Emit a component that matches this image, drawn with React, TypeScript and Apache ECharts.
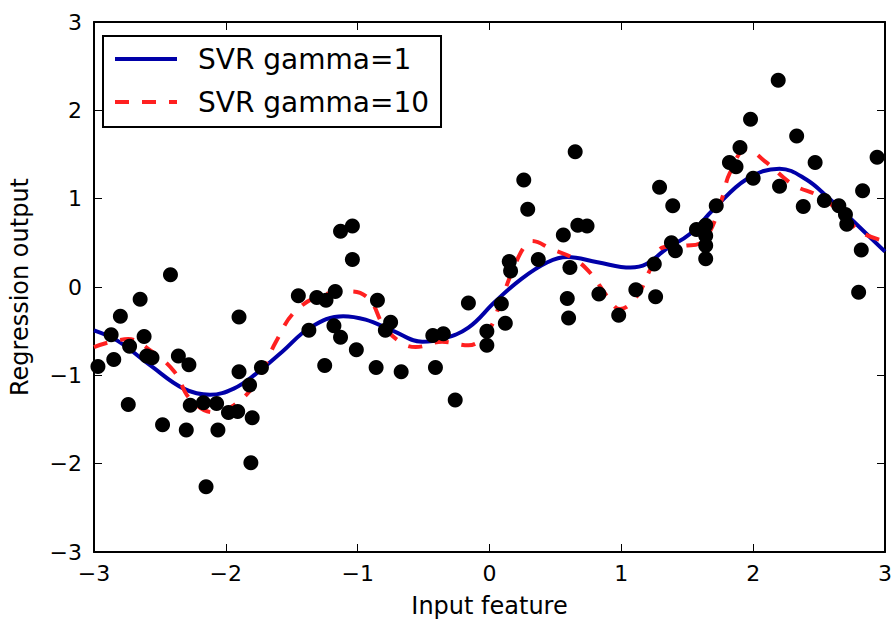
import React, { useEffect, useRef } from "react";
import * as echarts from "echarts";

const pointX = [
  -2.97, -2.87, -2.85, -2.8, -2.74, -2.73, -2.65, -2.62, -2.6, -2.56, -2.48, -2.42, -2.36, -2.28, -2.3, -2.27,
  -2.17, -2.15, -2.07, -2.06, -1.98, -1.91, -1.9, -1.8, -1.81, -1.82, -1.9, -1.73, -1.45, -1.37, -1.31, -1.24,
  -1.17, -1.25, -1.18, -1.13, -1.13, -1.04, -1.04, -1.01, -0.85, -0.86, -0.75, -0.79, -0.67, -0.43, -0.35, -0.41,
  -0.26, -0.16, -0.02, -0.02, 0.09, 0.12, 0.15, 0.16, 0.26, 0.29, 0.37, 0.56, 0.59, 0.6, 0.61, 0.65, 0.67, 0.74,
  0.83, 0.98, 1.11, 1.26, 1.25, 1.29, 1.39, 1.38, 1.41, 1.57, 1.64, 1.64, 1.64, 1.64, 1.72, 1.82, 1.87, 1.9, 1.98,
  2.0, 2.19, 2.2, 2.33, 2.38, 2.47, 2.54, 2.65, 2.7, 2.71, 2.83, 2.82, 2.8, 2.94,
];
const pointY = [
  -0.9, -0.54, -0.82, -0.33, -1.33, -0.67, -0.14, -0.56, -0.78, -0.8, -1.56, 0.14, -0.78, -0.88, -1.62, -1.34,
  -1.31, -2.26, -1.32, -1.62, -1.42, -1.41, -0.34, -1.48, -1.99, -1.11, -0.96, -0.91, -0.1, -0.49, -0.12, -0.15,
  -0.05, -0.89, -0.44, -0.57, 0.63, 0.69, 0.31, -0.71, -0.15, -0.91, -0.4, -0.49, -0.96, -0.55, -0.53, -0.91,
  -1.28, -0.18, -0.5, -0.66, -0.19, -0.41, 0.29, 0.18, 1.21, 0.88, 0.31, 0.59, -0.13, -0.35, 0.22, 1.53, 0.7, 0.69,
  -0.08, -0.32, -0.03, -0.11, 0.26, 1.13, 0.92, 0.5, 0.41, 0.65, 0.7, 0.58, 0.47, 0.32, 0.92, 1.41, 1.36, 1.58, 1.9,
  1.23, 2.34, 1.14, 1.71, 0.91, 1.41, 0.98, 0.92, 0.82, 0.71, 1.09, 0.42, -0.06, 1.47,
];

const gamma1X = [
  -3, -2.82, -2.57, -2.32, -2.12, -1.94, -1.77, -1.57, -1.36, -1.11, -0.94, -0.74, -0.51, -0.36, -0.16, 0.04,
  0.24, 0.44, 0.59, 0.82, 1.07, 1.19, 1.34, 1.52, 1.7, 1.95, 2.2, 2.4, 2.57, 2.77, 3.0,
];
const gamma1Y = [
  -0.49, -0.61, -0.89, -1.15, -1.22, -1.15, -0.98, -0.73, -0.46, -0.33, -0.37, -0.49, -0.62, -0.59, -0.46, -0.17,
  0.09, 0.28, 0.34, 0.28, 0.22, 0.26, 0.43, 0.6, 0.88, 1.22, 1.34, 1.22, 1.01, 0.73, 0.4,
];

const gamma10X = [
  -3, -2.74, -2.57, -2.39, -2.27, -2.09, -1.94, -1.77, -1.62, -1.47, -1.24, -1.05, -0.91, -0.81, -0.69, -0.56,
  -0.36, -0.16, -0.01, 0.09, 0.19, 0.27, 0.32, 0.47, 0.64, 0.77, 0.89, 0.99, 1.12, 1.22, 1.32, 1.5, 1.59, 1.67,
  1.77, 1.82, 1.95, 2.1, 2.3, 2.5, 2.65, 2.82, 3.0,
];
const gamma10Y = [
  -0.68, -0.59, -0.72, -0.96, -1.27, -1.42, -1.34, -1.08, -0.62, -0.27, -0.08, -0.05, -0.14, -0.42, -0.61, -0.68,
  -0.62, -0.66, -0.5, -0.14, 0.24, 0.47, 0.52, 0.43, 0.32, 0.15, -0.1, -0.25, -0.1, 0.2, 0.45, 0.47, 0.49, 0.62,
  1.03, 1.28, 1.56, 1.41, 1.16, 1.03, 0.86, 0.62, 0.52,
];

const seriesNames = ["SVR gamma=1", "SVR gamma=10"];
const xAxisTitle = "Input feature";
const yAxisTitle = "Regression output";

const FONT = "DejaVu Sans";
const fmt = (v: number) => (v < 0 ? "\u2212" + Math.abs(v) : String(v));

export default function App() {
  const ref = useRef<HTMLDivElement>(null);
  useEffect(() => {
    if (!ref.current) return;
    const chart = echarts.init(ref.current, undefined, { renderer: "svg" });
    const zip = (xs: number[], ys: number[]) => xs.map((x, i) => [x, ys[i]]);
    const axisLine = { show: true, onZero: false, lineStyle: { color: "#000", width: 2 } };
    const tick = { show: true, inside: true, length: 8, lineStyle: { color: "#000", width: 1 } };
    const baseAxis = {
      type: "value" as const,
      min: -3,
      max: 3,
      interval: 1,
      splitLine: { show: false },
      axisLine,
      axisTick: tick,
    };
    chart.setOption({
      animation: false,
      backgroundColor: "#fff",
      grid: { left: 89, right: 9, top: 22, bottom: 69, containLabel: false },
      legend: {
        data: seriesNames,
        orient: "vertical",
        left: 103,
        top: 36,
        borderColor: "#000",
        borderWidth: 2,
        padding: [9, 12, 11, 10],
        itemWidth: 62,
        itemHeight: 14,
        itemGap: 15,
        itemStyle: { opacity: 0 },
        lineStyle: { width: 4 },
        textStyle: { fontFamily: FONT, fontSize: 28, color: "#000", padding: [0, 0, 0, 16] },
      },
      xAxis: [
        {
          ...baseAxis,
          position: "bottom",
          name: xAxisTitle,
          nameLocation: "middle",
          nameGap: 42,
          nameTextStyle: { fontFamily: FONT, fontSize: 24, color: "#000" },
          axisLabel: { formatter: fmt, fontFamily: FONT, fontSize: 22, color: "#000", margin: 10 },
        },
        { ...baseAxis, position: "top", axisLabel: { show: false } },
      ],
      yAxis: [
        {
          ...baseAxis,
          position: "left",
          name: yAxisTitle,
          nameLocation: "middle",
          nameGap: 62,
          nameTextStyle: { fontFamily: FONT, fontSize: 24, color: "#000" },
          axisLabel: { formatter: fmt, fontFamily: FONT, fontSize: 22, color: "#000", margin: 12 },
        },
        { ...baseAxis, position: "right", axisLabel: { show: false } },
      ],
      series: [
        {
          name: seriesNames[0],
          type: "line",
          data: zip(gamma1X, gamma1Y),
          symbol: "none",
          smooth: 0.4,
          lineStyle: { color: "#0000a8", width: 4 },
          itemStyle: { color: "#0000a8" },
          z: 2,
        },
        {
          name: seriesNames[1],
          type: "line",
          data: zip(gamma10X, gamma10Y),
          symbol: "none",
          smooth: 0.4,
          lineStyle: { color: "#ff2020", width: 4, type: [14, 13] },
          itemStyle: { color: "#ff2020" },
          z: 3,
        },
        {
          name: "data",
          type: "scatter",
          data: zip(pointX, pointY),
          symbol: "circle",
          symbolSize: 15,
          itemStyle: { color: "#000", opacity: 1 },
          z: 4,
        },
      ],
    });
    return () => chart.dispose();
  }, []);
  return <div ref={ref} style={{ position: "fixed", left: 0, top: 0, width: 895, height: 623 }} />;
}
